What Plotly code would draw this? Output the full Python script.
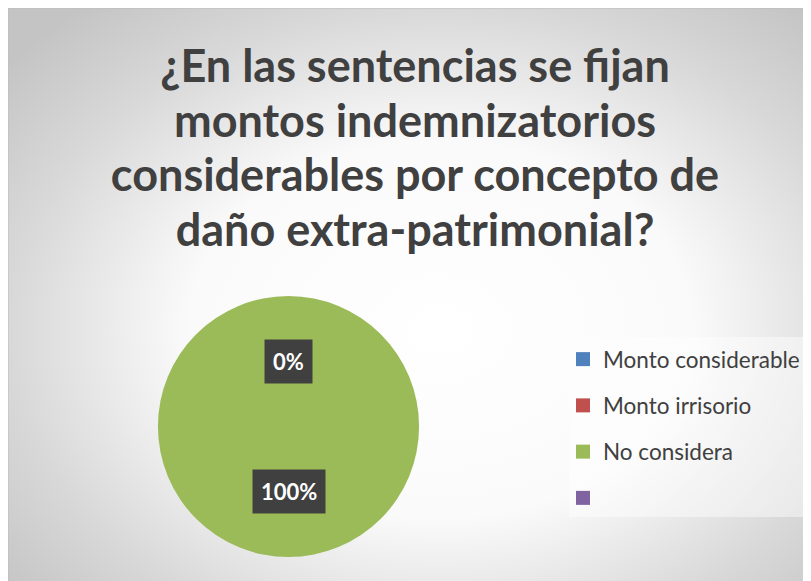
import math
import plotly.graph_objects as go

# data
categories = ["Monto considerable", "Monto irrisorio", "No considera", ""]
percentages = [0, 0, 100, 0]
colors = ["#4f81bd", "#c0504d", "#9bbb59", "#8064a2"]
title_lines = ["¿En las sentencias se fijan",
               "montos indemnizatorios",
               "considerables por concepto de",
               "daño extra-patrimonial?"]

# the figure sits at (8, 8) on the page; layout numbers below are page pixels
OX, OY = 8, 8
W, H = 803, 573
PIE_CX, PIE_CY, PIE_R = 288.5, 426.5, 130.5


def px(x):
    return (x - OX) / W


def py(y):
    return 1 - (y - OY) / H


fig = go.Figure()

# background radial gradient of the chart area
GX, GY, GA, GB = 440, 330, 560, 420
fig.add_trace(go.Scatter(
    x=[GX - GA, GX + GA, GX + GA, GX - GA, GX - GA],
    y=[GY - GB, GY - GB, GY + GB, GY + GB, GY - GB],
    mode="lines", line=dict(width=0), fill="toself",
    fillgradient=dict(type="radial",
                      colorscale=[[0, "#ffffff"], [0.45, "#fafafa"],
                                  [0.77, "#d8d8d8"], [1, "#c4c4c4"]]),
    hoverinfo="skip", showlegend=False))

fig.add_trace(go.Pie(
    labels=[c if c else " " for c in categories],
    values=percentages,
    marker=dict(colors=colors, line=dict(width=0)),
    sort=False, direction="clockwise", rotation=0,
    textinfo="none", hoverinfo="label+percent",
    showlegend=False,
    domain=dict(x=[px(PIE_CX - PIE_R), px(PIE_CX + PIE_R)],
                y=[py(PIE_CY + PIE_R), py(PIE_CY - PIE_R)])))

# legend entries
for i, (name, col) in enumerate(zip(categories, colors)):
    fig.add_trace(go.Scatter(
        x=[None], y=[None], mode="markers", name=name,
        marker=dict(symbol="square", size=14, color=col),
        legendgroup=f"g{i}", showlegend=True))

# data labels, placed like Excel: halfway along each slice's mid angle
total = sum(percentages)
cum = 0
seen = set()
for v in percentages:
    mid = (cum + v / 2) / total * 2 * math.pi
    cum += v
    lx = PIE_CX + 0.5 * PIE_R * math.sin(mid)
    ly = PIE_CY - 0.5 * PIE_R * math.cos(mid)
    key = (round(lx), round(ly))
    if key in seen:
        continue
    seen.add(key)
    fig.add_annotation(
        x=lx, y=ly, xref="x", yref="y",
        text=f"<b>{round(100 * v / total)}%</b>", showarrow=False,
        font=dict(family="Lato", size=22, color="white"),
        bgcolor="#404040", borderpad=8)

# legend backdrop and chart frame
fig.add_shape(type="rect", xref="x", yref="y", x0=569, x1=808, y0=337, y1=517,
              line=dict(width=0), fillcolor="rgba(255,255,255,0.45)",
              layer="above")
fig.add_shape(type="rect", xref="x", yref="y", x0=OX, x1=OX + W + 5,
              y0=OY, y1=OY + H + 5,
              line=dict(width=1, color="#bcbcbc"), layer="above")

fig.update_xaxes(range=[OX, OX + W], visible=False, fixedrange=True)
fig.update_yaxes(range=[OY + H, OY], visible=False, fixedrange=True)

title_text = "<br>".join(f'<span style="font-size:45px">{t}</span>'
                         for t in title_lines)

fig.update_layout(
    width=W, height=H,
    margin=dict(l=0, r=0, t=0, b=0),
    paper_bgcolor="white", plot_bgcolor="rgba(0,0,0,0)",
    title=dict(text="<b>" + title_text + "</b>",
               x=px(415), xanchor="center", y=py(82), yanchor="top",
               font=dict(family="Lato", size=42, color="#404040")),
    legend=dict(x=px(563), xanchor="left", y=py(338), yanchor="top",
                bgcolor="rgba(0,0,0,0)", tracegroupgap=14,
                traceorder="grouped",
                font=dict(family="Lato", size=22.5, color="#404040")),
)

fig.write_html("out.html")
